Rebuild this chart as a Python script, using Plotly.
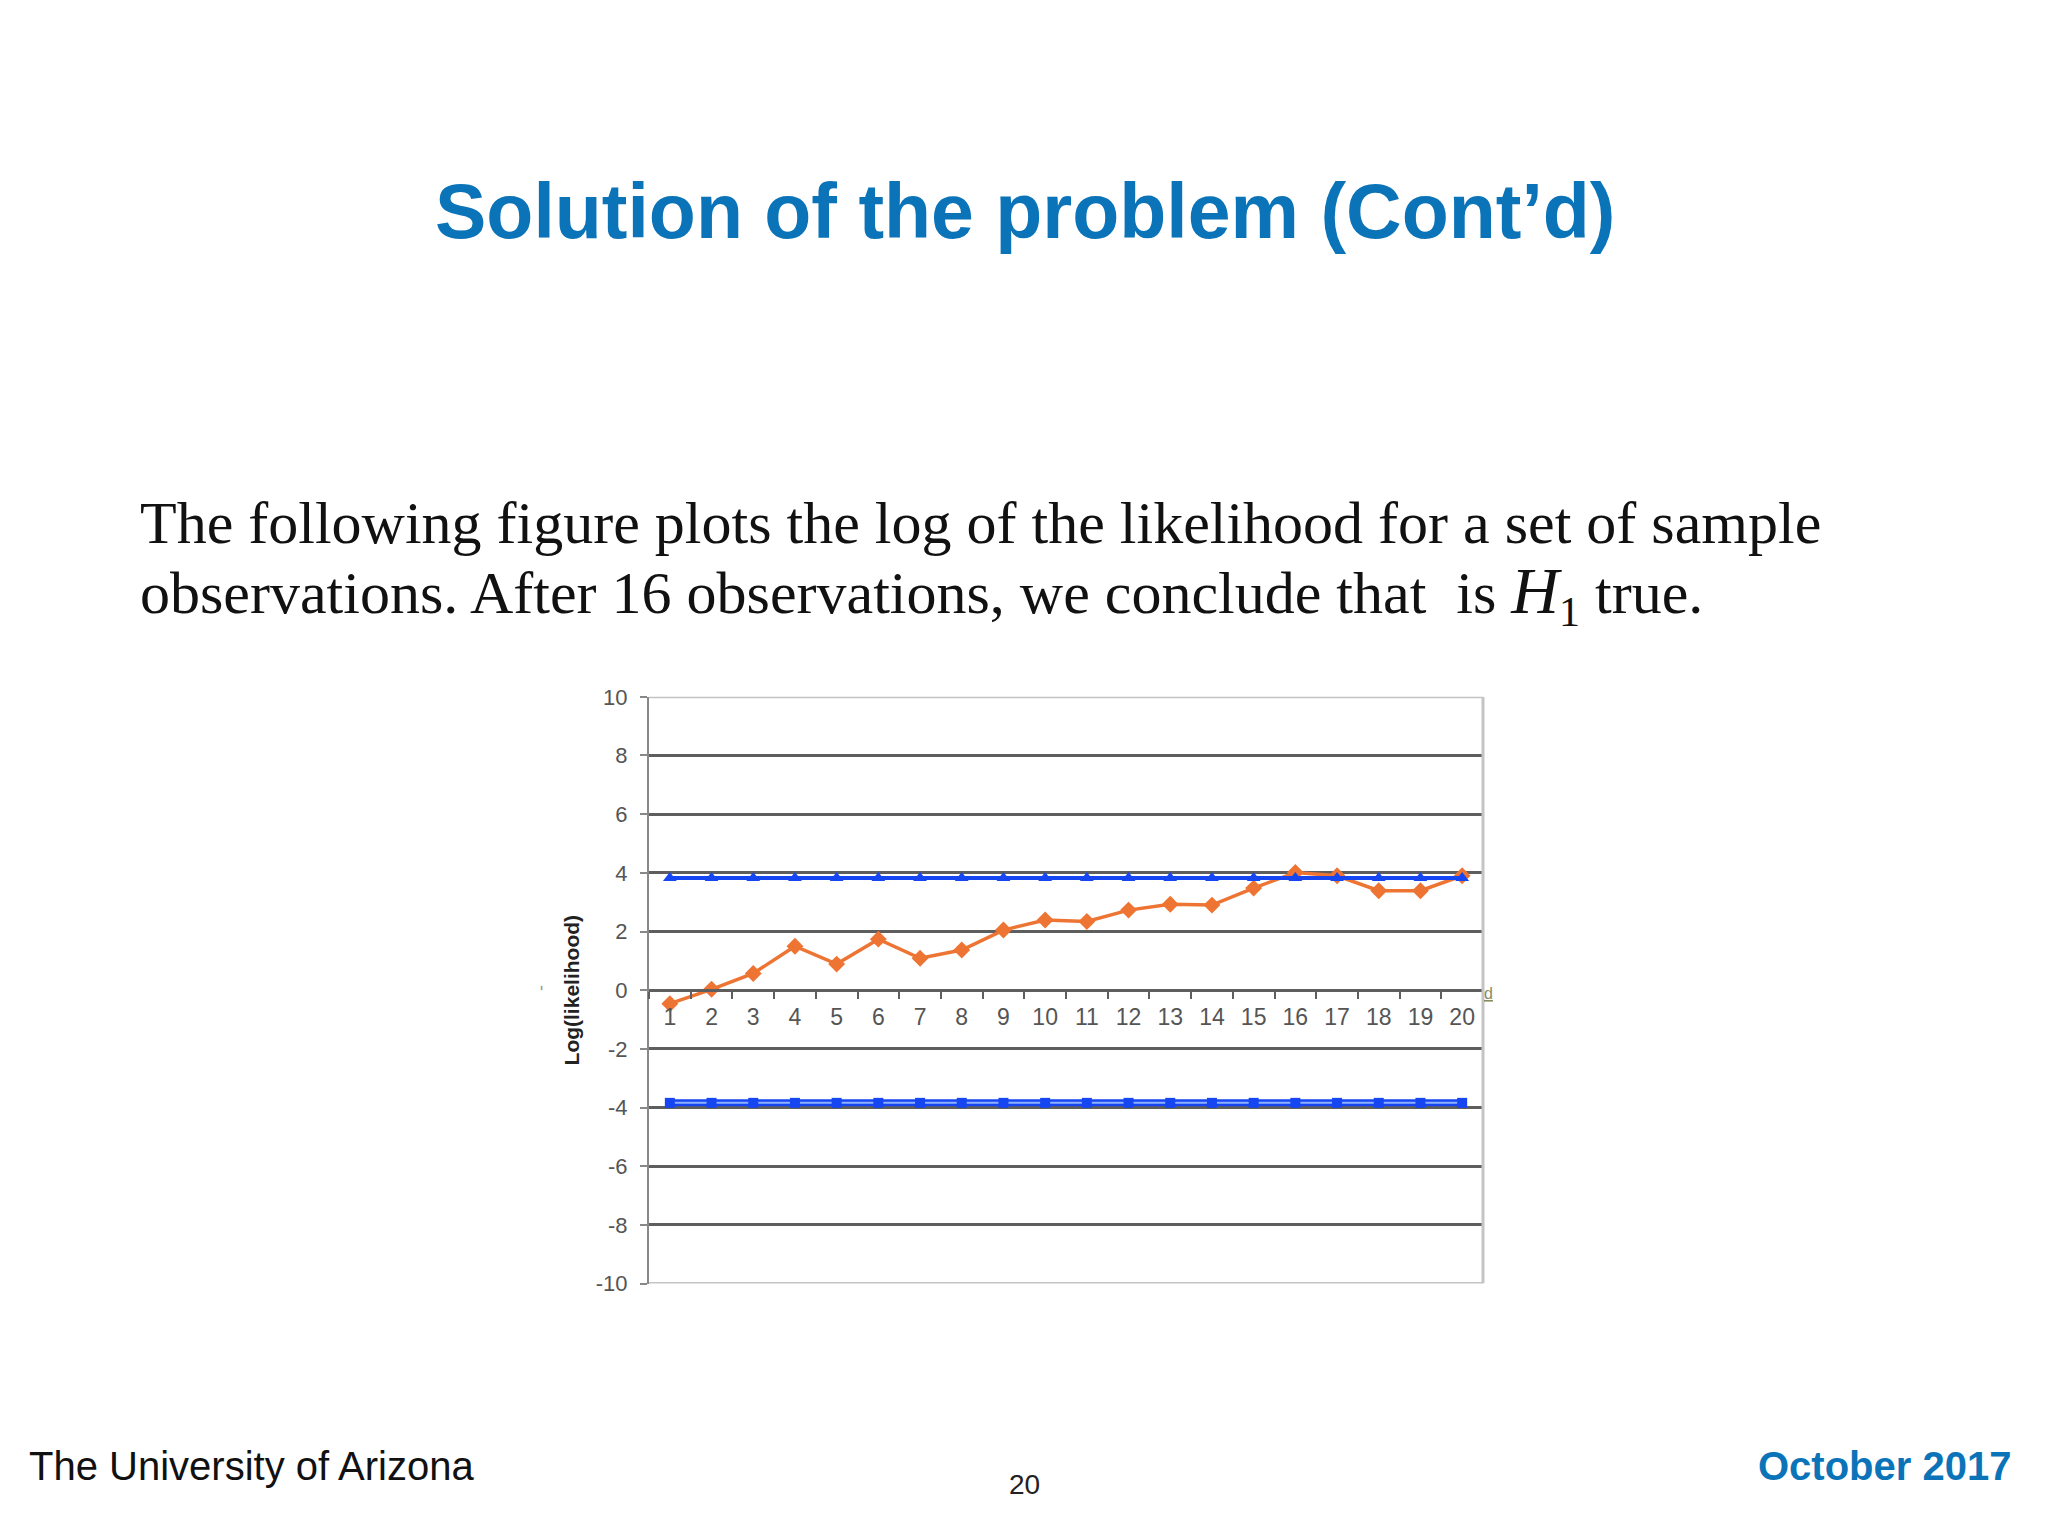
import plotly.graph_objects as go

# ---- data ----
observations = [str(i) for i in range(1, 21)]
log_likelihood = [-0.46, 0.03, 0.57, 1.50, 0.89, 1.74, 1.09, 1.37, 2.05, 2.39,
                  2.34, 2.73, 2.93, 2.90, 3.48, 4.01, 3.90, 3.39, 3.39, 3.90]
upper_threshold = [3.82] * 20
lower_threshold = [-3.84] * 20
y_ticks = [-10, -8, -6, -4, -2, 0, 2, 4, 6, 8, 10]

W, H = 2048, 1536
def px(x):
    return x / W
def py(y):
    return 1 - y / H

PLOT_L, PLOT_R, PLOT_T, PLOT_B = 641, 1475, 688, 1284.5
ZERO_Y = 986

ORANGE = "#ee7433"
BLUE = "#1646f2"
LIGHTBLUE = "#8fb0ff"
GRID = "#5e5e5e"

fig = go.Figure()

fig.add_trace(go.Scatter(
    x=observations, y=log_likelihood, mode="lines+markers",
    line=dict(color=ORANGE, width=3.5),
    marker=dict(symbol="diamond", size=13, color=ORANGE),
    showlegend=False, hoverinfo="skip"))

fig.add_trace(go.Scatter(
    x=observations, y=upper_threshold, mode="lines+markers",
    line=dict(color=BLUE, width=4),
    marker=dict(symbol="triangle-up", size=12, color=BLUE),
    showlegend=False, hoverinfo="skip"))

fig.add_trace(go.Scatter(
    x=observations, y=lower_threshold, mode="lines",
    line=dict(color=BLUE, width=7),
    showlegend=False, hoverinfo="skip"))
fig.add_trace(go.Scatter(
    x=observations, y=lower_threshold, mode="lines+markers",
    line=dict(color=LIGHTBLUE, width=2),
    marker=dict(symbol="square", size=10, color=BLUE),
    showlegend=False, hoverinfo="skip"))

fig.update_layout(
    width=W, height=H, autosize=False,
    margin=dict(l=0, r=0, t=0, b=0),
    paper_bgcolor="white", plot_bgcolor="white",
    font=dict(family="Liberation Sans, Arial, sans-serif"),
    xaxis=dict(
        type="category", domain=[px(PLOT_L), px(PLOT_R)],
        range=[-0.5, 19.5], autorange=False,
        anchor="free", position=py(ZERO_Y),
        tickson="boundaries", ticks="outside", ticklen=7, tickwidth=2,
        tickcolor=GRID, showgrid=False, showline=True,
        linecolor=GRID, linewidth=2.5, zeroline=False,
        tickfont=dict(size=23, color="#555"), ticklabelstandoff=6,
        fixedrange=True),
    yaxis=dict(
        domain=[py(PLOT_B), py(PLOT_T)], range=[-10, 10], autorange=False,
        tickvals=y_ticks, ticktext=[str(v) for v in y_ticks],
        showgrid=True, gridcolor=GRID, gridwidth=2.5, zeroline=False,
        showline=True, linecolor="#888", linewidth=2,
        ticks="outside", ticklen=7, tickwidth=2, tickcolor="#888",
        tickfont=dict(size=22, color="#555"), ticklabelstandoff=8,
        title=dict(text="<b>Log(likelihood)</b>", font=dict(size=21, color="#222"),
                   standoff=10),
        fixedrange=True),
)

# light plot-area border on top, bottom and right
for (x0, y0, x1, y1) in [(0, 10, 1, 10), (0, -10, 1, -10), (1, -10, 1, 10)]:
    fig.add_shape(type="line", xref="x domain", yref="y", x0=x0, y0=y0, x1=x1, y1=y1,
                  line=dict(color="#c4c4c4", width=3), layer="above")

ann = []
ann.append(dict(text="<b>Solution of the problem (Cont’d)</b>", x=px(1017), y=py(194),
                xanchor="center", yanchor="middle",
                font=dict(family="Liberation Sans, Arial, sans-serif", size=77, color="#0b74b9")))
ann.append(dict(text="The following figure plots the log of the likelihood for a set of sample",
                x=px(130), y=py(511), xanchor="left", yanchor="middle",
                font=dict(family="Liberation Serif, Times New Roman, serif", size=60, color="#111")))
ann.append(dict(text="observations. After 16 observations, we conclude that  is "
                     "<span style='font-size:66px'><i>H</i></span><sub>1</sub> true.",
                x=px(130), y=py(584), xanchor="left", yanchor="middle",
                font=dict(family="Liberation Serif, Times New Roman, serif", size=60, color="#111")))
ann.append(dict(text="The University of Arizona", x=px(19), y=py(1470),
                xanchor="left", yanchor="middle",
                font=dict(family="Liberation Sans, Arial, sans-serif", size=40, color="#111")))
ann.append(dict(text="<b>October 2017</b>", x=px(2005), y=py(1470),
                xanchor="right", yanchor="middle",
                font=dict(family="Liberation Sans, Arial, sans-serif", size=40, color="#0b74b9")))
ann.append(dict(text="20", x=px(1016), y=py(1489), xanchor="center", yanchor="middle",
                font=dict(family="Liberation Sans, Arial, sans-serif", size=28, color="#222")))
ann.append(dict(text="<u>d</u>", x=px(1480), y=py(990), xanchor="center", yanchor="middle",
                font=dict(family="Liberation Sans, Arial, sans-serif", size=16, color="#8a8a60")))
ann.append(dict(text="-", x=px(533), y=py(984), xanchor="center", yanchor="middle",
                textangle=-90,
                font=dict(family="Liberation Sans, Arial, sans-serif", size=18, color="#999")))

for a in ann:
    a.update(xref="paper", yref="paper", showarrow=False)
fig.update_layout(annotations=ann)

fig.write_html("out.html")
